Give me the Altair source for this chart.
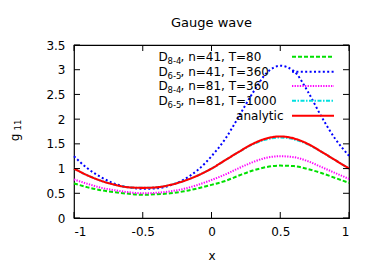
import altair as alt
import pandas as pd

# ---- data ----
x_vals = [-1.0, -0.9, -0.8, -0.7, -0.6, -0.5, -0.4, -0.3, -0.2, -0.1, 0.0,
          0.1, 0.2, 0.3, 0.4, 0.5, 0.6, 0.7, 0.8, 0.9, 1.0]

green_d84_n41 = [0.70, 0.62, 0.56, 0.52, 0.49, 0.47, 0.48, 0.50, 0.54, 0.60, 0.67,
                 0.75, 0.86, 0.96, 1.03, 1.06, 1.05, 0.99, 0.91, 0.81, 0.71]
blue_d65_n41 = [1.25, 1.00, 0.82, 0.69, 0.62, 0.59, 0.60, 0.66, 0.78, 0.97, 1.25,
                1.60, 2.06, 2.53, 2.93, 3.08, 2.97, 2.56, 2.05, 1.60, 1.26]
magenta_d84_n81 = [0.78, 0.69, 0.61, 0.56, 0.52, 0.50, 0.51, 0.54, 0.59, 0.67, 0.77,
                   0.88, 1.01, 1.13, 1.22, 1.25, 1.23, 1.15, 1.03, 0.91, 0.79]
cyan_d65_n81 = [1.00, 0.86, 0.75, 0.67, 0.62, 0.61, 0.62, 0.67, 0.75, 0.86, 1.00,
                1.17, 1.34, 1.49, 1.59, 1.63, 1.59, 1.49, 1.34, 1.17, 1.00]
red_analytic = [1.00, 0.86, 0.75, 0.67, 0.62, 0.61, 0.62, 0.67, 0.75, 0.86, 1.00,
                1.17, 1.34, 1.50, 1.61, 1.65, 1.61, 1.50, 1.34, 1.17, 1.00]

series_vals = [green_d84_n41, blue_d65_n41, magenta_d84_n81, cyan_d65_n81, red_analytic]
series_colors = ["#00e000", "#0000ff", "#ff00ff", "#00e0e0", "#ff0000"]
series_dash = [[4, 2], [2, 2.4], [1.3, 1.3], [4, 1.5, 1.5, 1.5], [1, 0]]
series_width = [2.0, 2.0, 2.0, 2.0, 2.1]
legend_sub = ["8-4", "6-5", "8-4", "6-5", ""]
legend_rest = [", n=41, T=80", ", n=41, T=360", ", n=81, T=360", ", n=81, T=1000", ""]

x_ticks = [-1, -0.5, 0, 0.5, 1]
y_ticks = [0, 0.5, 1, 1.5, 2, 2.5, 3, 3.5]

FONT = "DejaVu Sans"
FS = 12
W, H = 275, 173

xs = alt.Scale(domain=[-1, 1], nice=False, zero=False)
ys = alt.Scale(domain=[0, 3.5], nice=False, zero=False)
x_axis = alt.Axis(values=x_ticks, labelExpr="'' + datum.value", ticks=False, domain=False,
                  grid=False, labelFont=FONT, labelFontSize=FS, labelColor="black",
                  labelPadding=8, labelOverlap=False, title="x", titleFont=FONT,
                  titleFontSize=FS, titleFontWeight="normal", titleColor="black",
                  titlePadding=13)
y_axis = alt.Axis(values=y_ticks, labelExpr="'' + datum.value", ticks=False, domain=False,
                  grid=False, labelFont=FONT, labelFontSize=FS, labelColor="black",
                  labelPadding=9, labelOverlap=False, title=None)

one = pd.DataFrame({"k": [0]})

layers = []
for vals, col, dash, sw in zip(series_vals, series_colors, series_dash, series_width):
    df = pd.DataFrame({"x": x_vals, "y": vals})
    layers.append(
        alt.Chart(df).mark_line(color=col, strokeDash=dash, strokeWidth=sw, interpolate="monotone").encode(
            x=alt.X("x:Q", scale=xs, axis=x_axis),
            y=alt.Y("y:Q", scale=ys, axis=y_axis),
        )
    )

xt = pd.DataFrame({"t": x_ticks})
yt = pd.DataFrame({"t": y_ticks})
tick_bottom = alt.Chart(xt).mark_rule(color="black").encode(x=alt.X("t:Q", scale=xs, axis=x_axis), y=alt.value(H), y2=alt.value(H - 6))
tick_top = alt.Chart(xt).mark_rule(color="black").encode(x=alt.X("t:Q", scale=xs, axis=x_axis), y=alt.value(0), y2=alt.value(6))
tick_left = alt.Chart(yt).mark_rule(color="black").encode(y=alt.Y("t:Q", scale=ys, axis=y_axis), x=alt.value(0), x2=alt.value(6))
tick_right = alt.Chart(yt).mark_rule(color="black").encode(y=alt.Y("t:Q", scale=ys, axis=y_axis), x=alt.value(W), x2=alt.value(W - 6))

# legend (inside top right)
row_y = [11.7, 26.7, 40.9, 55.7, 70.7]
leg = []
for i, (col, dash, sw) in enumerate(zip(series_colors, series_dash, series_width)):
    leg.append(alt.Chart(one).mark_rule(color=col, strokeDash=dash, strokeWidth=sw).encode(
        x=alt.value(218), x2=alt.value(260), y=alt.value(row_y[i])))
    if legend_sub[i]:
        leg.append(alt.Chart(one).mark_text(text="D", font=FONT, fontSize=FS, align="left", baseline="middle").encode(
            x=alt.value(84.5), y=alt.value(row_y[i] + 0.5)))
        leg.append(alt.Chart(one).mark_text(text=legend_sub[i], font=FONT, fontSize=8.5, align="left", baseline="middle").encode(
            x=alt.value(93.5), y=alt.value(row_y[i] + 4)))
        leg.append(alt.Chart(one).mark_text(text=legend_rest[i], font=FONT, fontSize=FS, align="left", baseline="middle").encode(
            x=alt.value(106.5), y=alt.value(row_y[i] + 0.5)))
    else:
        leg.append(alt.Chart(one).mark_text(text="analytic", font=FONT, fontSize=FS, align="right", baseline="middle").encode(
            x=alt.value(209.5), y=alt.value(row_y[i] + 0.5)))

# y axis title g_11
ylab_g = alt.Chart(one).mark_text(text="g", font=FONT, fontSize=FS, angle=270, baseline="middle", align="center").encode(
    x=alt.value(-59), y=alt.value(92.5))
ylab_s = alt.Chart(one).mark_text(text="11", font=FONT, fontSize=8.5, angle=270, baseline="middle", align="center").encode(
    x=alt.value(-56.5), y=alt.value(80))

chart = alt.layer(*layers, tick_bottom, tick_top, tick_left, tick_right, *leg, ylab_g, ylab_s).properties(
    width=W, height=H,
    title=alt.TitleParams("Gauge wave", font=FONT, fontSize=13, fontWeight="normal", anchor="middle", offset=9),
    autosize=alt.AutoSizeParams(type="none"),
    padding={"left": 66, "top": 37, "right": 17, "bottom": 50},
).configure_view(stroke="black", strokeWidth=1.2).configure_axis(labelOverlap=False)

chart.save("out.html", embed_options={"renderer": "svg", "actions": False})
